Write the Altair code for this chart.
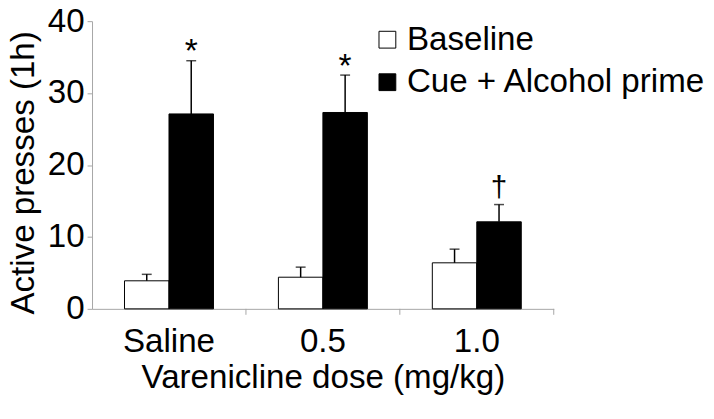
import altair as alt
import pandas as pd

doses = ["Saline", "0.5", "1.0"]
groups = ["Baseline", "Cue + Alcohol prime"]
baseline_mean = [3.9, 4.4, 6.4]
baseline_sem = [0.9, 1.4, 1.9]
cue_mean = [27.1, 27.3, 12.1]
cue_sem = [7.4, 5.2, 2.4]
annotations = ["*", "*", "\u2020"]

rows = []
for i, d in enumerate(doses):
    rows.append({"dose": d, "group": groups[0], "value": baseline_mean[i], "err": baseline_sem[i], "mark": ""})
    rows.append({"dose": d, "group": groups[1], "value": cue_mean[i], "err": cue_sem[i], "mark": annotations[i]})
df = pd.DataFrame(rows)

W, H = 467, 291
FONT = "Liberation Sans"
GREY = "#a6a6a6"
FS = 33.5

x_axis = alt.Axis(
    title="Varenicline dose (mg/kg)",
    labelAngle=0,
    ticks=False,
    labelPadding=17.5,
    labelFontSize=FS,
    labelColor="black",
    titleFontSize=FS,
    titleFontWeight="normal",
    titleColor="black",
    titleBaseline="top",
    titleY=54,
    domainColor=GREY,
    domainWidth=1,
)
x_scale = alt.Scale(paddingInner=0, paddingOuter=0)
x_main = alt.X("dose:N", sort=doses, scale=x_scale, axis=x_axis)
xoff = alt.XOffset("group:N", sort=groups, scale=alt.Scale(paddingInner=0, paddingOuter=0.73))
y_scale = alt.Scale(domain=[0, 40], nice=False)
y_axis = alt.Axis(
    title="Active presses (1h)",
    values=[0, 10, 20, 30, 40],
    grid=False,
    tickSize=5,
    tickColor=GREY,
    domainColor=GREY,
    labelPadding=3,
    labelFontSize=FS,
    labelColor="black",
    titleFontSize=FS,
    titleFontWeight="normal",
    titleColor="black",
    titleX=-52,
    titleY=153,
    titleBaseline="bottom",
)
y_enc = alt.Y("value:Q", scale=y_scale, axis=y_axis)
y_top = alt.Y("top:Q", scale=y_scale, axis=y_axis)

base = alt.Chart(df)

bars = base.mark_bar(stroke="black", strokeWidth=1).encode(
    x=x_main,
    xOffset=xoff,
    y=y_enc,
    fill=alt.Fill(
        "group:N",
        sort=groups,
        scale=alt.Scale(domain=groups, range=["white", "black"]),
        legend=alt.Legend(
            title=None,
            orient="none",
            legendX=282,
            legendY=2,
            symbolType="square",
            symbolSize=289,
            symbolStrokeColor="black",
            symbolStrokeWidth=1,
            labelFontSize=FS,
            labelColor="black",
            labelOffset=3,
            rowPadding=8,
            labelLimit=400,
        ),
    ),
)

err_base = base.transform_calculate(top="datum.value + datum.err")

err_rule = err_base.mark_rule(color="black", strokeWidth=1.5).encode(
    x=x_main, xOffset=xoff, y=y_enc, y2="top:Q"
)
err_cap = err_base.mark_tick(color="black", orient="horizontal", size=10, thickness=1.5).encode(
    x=x_main, xOffset=xoff, y=y_top
)

star = err_base.transform_filter("datum.mark == '*'").mark_text(
    fontSize=34, baseline="alphabetic", dy=1.5, color="black"
).encode(x=x_main, xOffset=xoff, y=y_top, text="mark:N")

dagger = err_base.transform_filter("datum.mark == '\u2020'").mark_text(
    fontSize=30, baseline="alphabetic", dy=-8, color="black"
).encode(x=x_main, xOffset=xoff, y=y_top, text="mark:N")

ticks_df = pd.DataFrame({"dose": doses})
xticks = alt.Chart(ticks_df).mark_rule(color=GREY, strokeWidth=1).encode(
    x=alt.X("dose:N", sort=doses, bandPosition=1, scale=x_scale, axis=x_axis),
    y=alt.value(H),
    y2=alt.value(H + 6),
)

chart = (
    alt.layer(bars, err_rule, err_cap, star, dagger, xticks)
    .properties(
        width=W,
        height=H,
        autosize=alt.AutoSizeParams(type="none"),
        padding={"left": 85, "top": 11, "right": 154, "bottom": 100},
    )
    .configure(font=FONT)
    .configure_view(stroke=None)
)

chart.save("out.html", embed_options={"renderer": "svg", "actions": False})
